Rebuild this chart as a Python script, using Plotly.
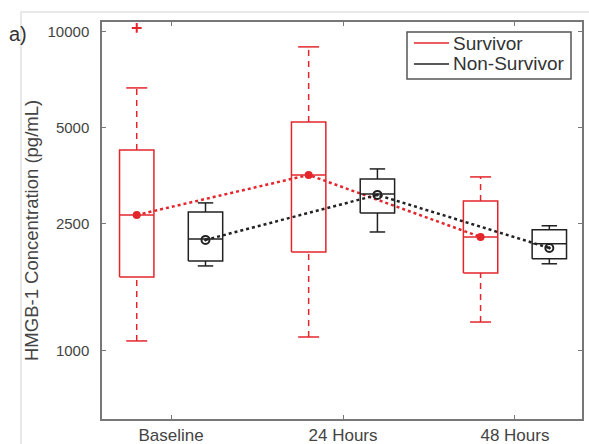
import plotly.graph_objects as go

# ---- data ----
categories = ["Baseline", "24 Hours", "48 Hours"]
cat_pos = [1, 2, 3]

surv_lower = [1075, 1106, 1232]
surv_q1 = [1705, 2042, 1755]
surv_median = [2666, 3558, 2275]
surv_q3 = [4262, 5214, 2950]
surv_upper = [6662, 8956, 3507]
surv_mean = [2666, 3558, 2275]
surv_outliers_cat = [1]
surv_outliers_val = [10270]

non_lower = [1846, 2358, 1875]
non_q1 = [1914, 2705, 1944]
non_median = [2243, 3102, 2165]
non_q3 = [2725, 3457, 2395]
non_upper = [2908, 3715, 2466]
non_mean = [2227, 3081, 2102]

y_tickvals = [1000, 2500, 5000, 10000]
y_ticktext = ["1000", "2500", "5000", "10000"]

legend_names = ["Survivor", "Non-Survivor"]

RED = "#e3262c"
BLACK = "#222222"
OFFSET = 0.2
HALF_BOX = 0.1


def box_paths(pos, lo, q1, med, q3, hi, cap_half):
    bx, by = [], []          # box rectangle + median
    wx, wy = [], []          # whiskers
    cx, cy = [], []          # caps
    for p, a, b, m, c, d in zip(pos, lo, q1, med, q3, hi):
        l, r = p - HALF_BOX, p + HALF_BOX
        bx += [l, r, r, l, l, None, l, r, None]
        by += [b, b, c, c, b, None, m, m, None]
        wx += [p, p, None, p, p, None]
        wy += [c, d, None, a, b, None]
        cx += [p - cap_half, p + cap_half, None, p - cap_half, p + cap_half, None]
        cy += [d, d, None, a, a, None]
    return (bx, by), (wx, wy), (cx, cy)


fig = go.Figure()

# Survivor
s_pos = [c - OFFSET for c in cat_pos]
(bx, by), (wx, wy), (cx, cy) = box_paths(s_pos, surv_lower, surv_q1, surv_median,
                                         surv_q3, surv_upper, 0.061)
fig.add_trace(go.Scatter(x=bx, y=by, mode="lines", name=legend_names[0],
                         line=dict(color=RED, width=1.5)))
fig.add_trace(go.Scatter(x=wx, y=wy, mode="lines",
                         line=dict(color=RED, width=1.5, dash="6px,5px")))
fig.add_trace(go.Scatter(x=cx, y=cy, mode="lines",
                         line=dict(color=RED, width=1.5)))
fig.add_trace(go.Scatter(x=[s_pos[c - 1] for c in surv_outliers_cat], y=surv_outliers_val,
                         mode="markers",
                         marker=dict(symbol="cross-thin", size=7,
                                     line=dict(color=RED, width=2), color=RED)))
fig.add_trace(go.Scatter(x=s_pos, y=surv_mean, mode="lines+markers",
                         line=dict(color=RED, width=2.5, dash="dot"),
                         marker=dict(symbol="circle", size=8, color=RED)))

# Non-Survivor
n_pos = [c + OFFSET for c in cat_pos]
(bx, by), (wx, wy), (cx, cy) = box_paths(n_pos, non_lower, non_q1, non_median,
                                         non_q3, non_upper, 0.045)
fig.add_trace(go.Scatter(x=bx, y=by, mode="lines", name=legend_names[1],
                         line=dict(color=BLACK, width=1.5)))
fig.add_trace(go.Scatter(x=wx, y=wy, mode="lines",
                         line=dict(color=BLACK, width=1.5)))
fig.add_trace(go.Scatter(x=cx, y=cy, mode="lines",
                         line=dict(color=BLACK, width=1.5)))
fig.add_trace(go.Scatter(x=n_pos, y=non_mean, mode="lines+markers",
                         line=dict(color=BLACK, width=2.5, dash="dot"),
                         marker=dict(symbol="circle-open-dot", size=8,
                                     line=dict(color=BLACK, width=2), color=BLACK)))

# ---- legend drawn as a small boxed key (paper coordinates) ----
PW, PH, PL, PB = 480.0, 397.0, 102.0, 419.0


def px(xp):
    return (xp - PL) / PW


def py(yp):
    return (PB - yp) / PH


shapes = [
    dict(type="rect", xref="paper", yref="paper", x0=px(21), x1=1.2,
         y0=-0.3, y1=py(12), line=dict(color="#e2e2e2", width=1.5), layer="below"),
    dict(type="rect", xref="paper", yref="paper", x0=px(407), x1=px(571),
         y0=py(79), y1=py(32), line=dict(color="#555", width=1.5),
         fillcolor="white", layer="above"),
]
annotations = [
    dict(text="HMGB-1 Concentration (pg/mL)", textangle=-90, xref="paper",
         yref="paper", x=px(31), y=py(231), showarrow=False,
         font=dict(size=18.5, color="#444"), xanchor="center", yanchor="middle"),
    dict(text="a)", xref="paper", yref="paper", x=px(18), y=py(34),
         showarrow=False, font=dict(size=20, color="#333"),
         xanchor="center", yanchor="middle"),
]
for i, (name, col) in enumerate(zip(legend_names, [RED, BLACK])):
    yc = 43 + 21 * i
    shapes.append(dict(type="line", xref="paper", yref="paper", x0=px(414), x1=px(449),
                       y0=py(yc), y1=py(yc), line=dict(color=col, width=1.6),
                       layer="above"))
    annotations.append(dict(text=name, xref="paper", yref="paper", x=px(451), y=py(yc),
                            xanchor="left", yanchor="middle", showarrow=False,
                            font=dict(size=19, color="#333")))

FONT = "Liberation Sans, Arial, sans-serif"
fig.update_layout(
    width=589, height=444,
    margin=dict(l=102, r=7, t=22, b=25, autoexpand=False),
    paper_bgcolor="white", plot_bgcolor="white",
    font=dict(family=FONT, color="#444"),
    showlegend=False,
    xaxis=dict(range=[0.598, 3.39], tickvals=cat_pos, ticktext=categories,
               showline=True, linecolor="#777", linewidth=1.5, mirror="ticks",
               ticks="inside", ticklen=4, tickcolor="#777", showgrid=False,
               zeroline=False, tickfont=dict(size=17, color="#444"), automargin=False),
    yaxis=dict(type="log", range=[2.787, 4.030], tickvals=y_tickvals, ticktext=y_ticktext,
               showline=True, linecolor="#777", linewidth=1.5, mirror="ticks",
               ticks="inside", ticklen=4, tickcolor="#777", showgrid=False,
               zeroline=False, tickfont=dict(size=15, color="#444"),
               ticklabelstandoff=8, automargin=False),
    annotations=annotations,
    shapes=shapes,
)

fig.write_html("out.html",
               config={"displayModeBar": False},
               post_script="document.body.style.margin='0';"
                           "document.documentElement.style.overflow='hidden';")
